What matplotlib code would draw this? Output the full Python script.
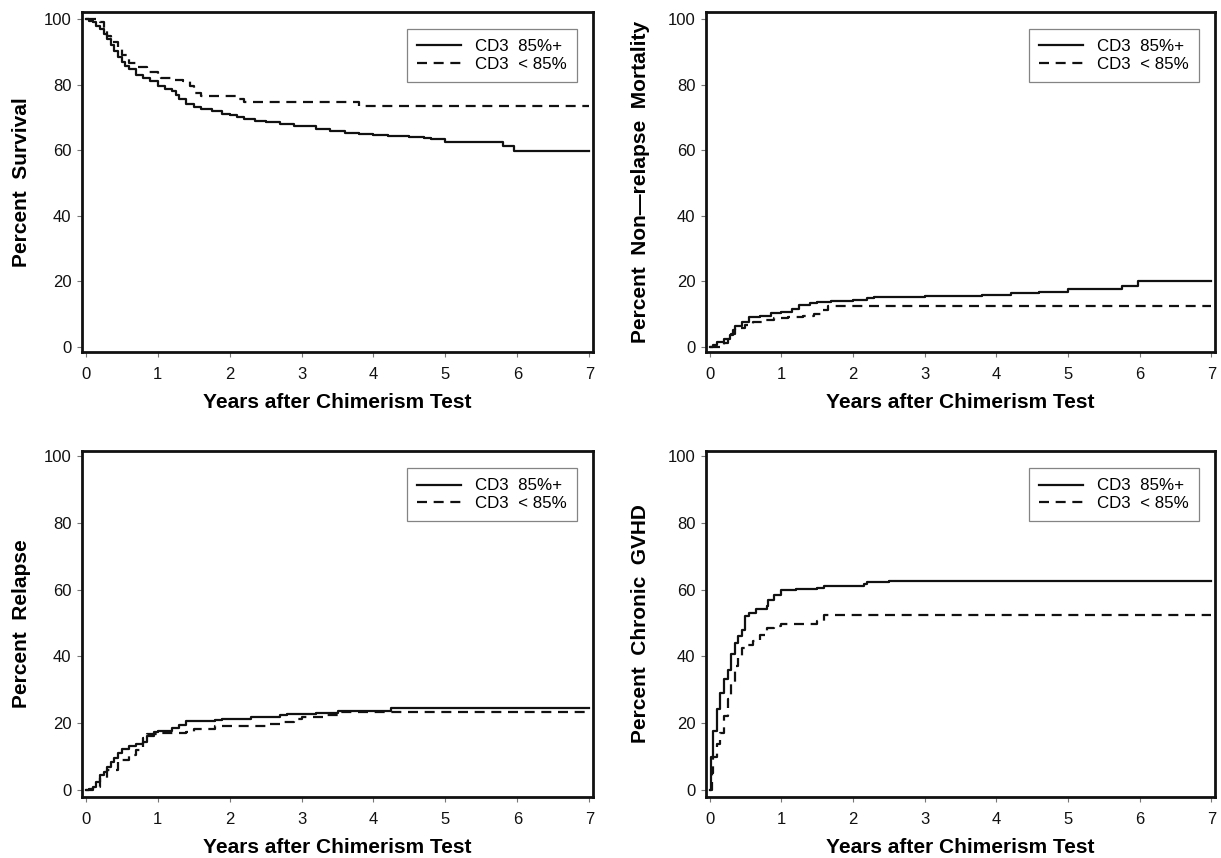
import matplotlib
matplotlib.use("Agg")
import matplotlib.pyplot as plt

plt.rcParams['font.family'] = ['Liberation Sans', 'DejaVu Sans']

# survival
os_hi_t = [0, 0.05, 0.1, 0.15, 0.2, 0.25, 0.3, 0.35, 0.4, 0.45, 0.5, 0.55, 0.6, 0.7, 0.8, 0.9, 1.0, 1.1, 1.2, 1.25,
           1.3, 1.4, 1.5, 1.6, 1.75, 1.9, 2.0, 2.1, 2.2, 2.35, 2.5, 2.7, 2.9, 3.0, 3.2, 3.4, 3.6, 3.8, 4.0, 4.2,
           4.5, 4.7, 4.8, 5.0, 5.8, 5.95, 7.0]
os_hi = [100, 99.5, 99, 98, 97, 95.5, 94, 92, 90.3, 88.5, 87, 85.8, 84.7, 83, 82, 81, 79.6, 78.8, 78, 77,
         75.5, 74.2, 73.2, 72.6, 72, 71.2, 70.7, 70, 69.5, 69, 68.6, 68, 67.5, 67.3, 66.6, 66, 65.3, 65, 64.6, 64.3,
         64, 63.8, 63.3, 62.6, 61.4, 59.8, 59.8]
os_lo_t = [0, 0.2, 0.25, 0.3, 0.35, 0.45, 0.5, 0.6, 0.7, 0.85, 1.0, 1.05, 1.2, 1.35, 1.45, 1.5, 1.6, 2.1, 2.2, 3.8, 7.0]
os_lo = [100, 99, 97, 95, 93, 91, 89, 86.7, 85.5, 84, 83, 82, 81.5, 81, 79.5, 77.6, 76.7, 75.5, 74.7, 73.5, 73.5]

# non-relapse mortality
nrm_hi_t = [0, 0.05, 0.1, 0.2, 0.28, 0.32, 0.36, 0.45, 0.55, 0.7, 0.85, 1.0, 1.15, 1.25, 1.4, 1.5, 1.7, 2.0,
            2.2, 2.3, 3.0, 3.8, 4.2, 4.6, 5.0, 5.75, 5.97, 7.0]
nrm_hi = [0, 0.5, 1.5, 2.5, 3.5, 5, 6.2, 7.5, 9, 9.5, 10.2, 10.7, 11.5, 12.8, 13.3, 13.8, 14, 14.2,
          14.8, 15.2, 15.4, 15.8, 16.3, 16.8, 17.6, 18.6, 20.1, 20.1]
nrm_lo_t = [0, 0.2, 0.25, 0.3, 0.35, 0.5, 0.6, 0.75, 0.9, 1.1, 1.3, 1.45, 1.55, 1.65, 7.0]
nrm_lo = [0, 1, 2.5, 4, 5.7, 6.5, 7.6, 8.3, 8.8, 9.0, 9.5, 10, 11.1, 12.3, 12.3]

# relapse
rel_hi_t = [0, 0.05, 0.1, 0.15, 0.2, 0.25, 0.3, 0.35, 0.4, 0.45, 0.5, 0.6, 0.7, 0.8, 0.85, 0.95, 1.0, 1.2, 1.3,
            1.4, 1.8, 1.9, 2.3, 2.7, 2.8, 3.2, 3.5, 4.25, 7.0]
rel_hi = [0, 0.3, 1, 2.5, 4.5, 5.5, 7, 8.5, 9.5, 11, 12.4, 13.3, 13.9, 14.5, 16.3, 17.5, 17.8, 18.5, 19.5,
          20.8, 21.0, 21.3, 22, 22.4, 22.8, 23.1, 23.7, 24.5, 24.5]
rel_lo_t = [0, 0.1, 0.2, 0.3, 0.45, 0.6, 0.7, 0.8, 0.85, 1.0, 1.4, 1.5, 1.8, 2.5, 2.7, 2.9, 3.0, 3.3, 3.5, 7.0]
rel_lo = [0, 1, 3.5, 6, 9, 10.5, 12, 15.5, 16.7, 17, 17.5, 18.3, 19.3, 19.7, 20.5, 21.3, 22, 22.5, 23.3, 23.3]

# chronic gvhd
gv_hi_t = [0, 0.02, 0.05, 0.1, 0.15, 0.2, 0.25, 0.3, 0.35, 0.4, 0.45, 0.5, 0.55, 0.65, 0.8, 0.82, 0.9, 1.0,
           1.2, 1.5, 1.6, 2.15, 2.2, 2.5, 7.0]
gv_hi = [0, 10, 17.8, 24.3, 29, 33.2, 36, 40.6, 44.1, 46, 48, 52, 53, 54.3, 55, 57, 58.5, 59.9,
         60.3, 60.6, 61.1, 61.6, 62.2, 62.5, 62.5]
gv_lo_t = [0, 0.03, 0.05, 0.1, 0.15, 0.2, 0.25, 0.3, 0.35, 0.4, 0.45, 0.5, 0.6, 0.7, 0.8, 0.9, 1.0, 1.5, 1.6, 7.0]
gv_lo = [0, 5, 10, 13.9, 17, 22.3, 27.2, 32, 37.1, 40, 42.5, 43.4, 44.5, 46.5, 48.5, 49.2, 49.7, 50.7, 52.3, 52.3]

group_labels = ["CD3  85%+", "CD3  < 85%"]
xlabel = "Years after Chimerism Test"


def draw_panel(ax, t_hi, v_hi, t_lo, v_lo, ylabel, ylim, lab_x):
    ax.step(t_hi, v_hi, where="post", color="#111111", lw=1.6, label=group_labels[0])
    ax.step(t_lo, v_lo, where="post", color="#111111", lw=1.6, dashes=(4.5, 3), label=group_labels[1])
    ax.set_xlim(-0.05, 7.05)
    ax.set_ylim(*ylim)
    ax.set_xticks(range(0, 8))
    ax.set_yticks([0, 20, 40, 60, 80, 100])
    for s in ax.spines.values():
        s.set_linewidth(2.0)
        s.set_color("#111111")
    ax.tick_params(direction="out", length=3.5, width=0.8, color="#777777",
                   labelsize=12, labelcolor="#111111", pad=4)
    ax.tick_params(axis="x", pad=7)
    ax.set_xlabel(xlabel, fontsize=15, fontweight="bold", labelpad=8)
    ax.set_ylabel(ylabel, fontsize=15, fontweight="bold")
    ax.yaxis.set_label_coords(lab_x, 0.5)
    leg = ax.legend(loc="upper right", bbox_to_anchor=(0.968, 0.95), borderaxespad=0,
                    fontsize=12.2, handlelength=2.6, handletextpad=0.8, labelspacing=0.15,
                    borderpad=0.6, fancybox=False, frameon=True)
    leg.get_frame().set_edgecolor("#666666")
    leg.get_frame().set_linewidth(0.9)


fig = plt.figure(figsize=(12.21, 8.58), dpi=100)
W, H = 1221.0, 858.0

ax1 = fig.add_axes([82 / W, 1 - 352 / H, 511 / W, 340 / H])
ax2 = fig.add_axes([706 / W, 1 - 352 / H, 509 / W, 340 / H])
ax3 = fig.add_axes([82 / W, 1 - 797 / H, 511 / W, 346 / H])
ax4 = fig.add_axes([706 / W, 1 - 797 / H, 509 / W, 346 / H])

draw_panel(ax1, os_hi_t, os_hi, os_lo_t, os_lo, "Percent  Survival", (-1.6, 102.2), -0.1)
draw_panel(ax2, nrm_hi_t, nrm_hi, nrm_lo_t, nrm_lo, "Percent  Non\u2014relapse  Mortality", (-1.6, 102.2), -0.11)
draw_panel(ax3, rel_hi_t, rel_hi, rel_lo_t, rel_lo, "Percent  Relapse", (-2.1, 101.5), -0.1)
draw_panel(ax4, gv_hi_t, gv_hi, gv_lo_t, gv_lo, "Percent  Chronic  GVHD", (-2.1, 101.5), -0.11)

fig.savefig("out.png", dpi=100)
